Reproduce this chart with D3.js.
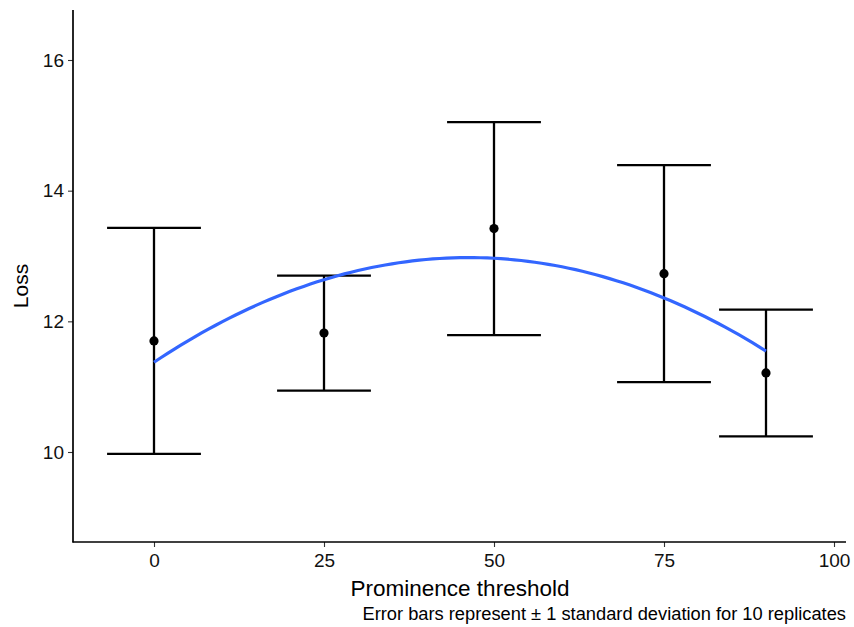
<!DOCTYPE html>
<html>
<head>
<meta charset="utf-8">
<script src="https://cdn.jsdelivr.net/npm/d3@7"></script>
<style>
  body { margin: 0; background: #fff; }
  text { font-family: "Liberation Sans", Arial, sans-serif; }
</style>
</head>
<body>
<svg width="854" height="627"></svg>
<script>
// thresholds, mean loss and sd over 10 replicates
const thresholds = [0, 25, 50, 75, 90];
const meanLoss = [11.70, 11.82, 13.42, 12.73, 11.21];
const sdLoss = [1.73, 0.88, 1.63, 1.66, 0.97];
const xTicks = [0, 25, 50, 75, 100];
const yTicks = [10, 12, 14, 16];

const svg = d3.select("svg");

const x = d3.scaleLinear().domain([0, 100]).range([154, 834]);
const y = d3.scaleLinear().domain([10, 16]).range([452, 60]);

// quadratic least squares fit (like geom_smooth(method = lm, y ~ poly(x, 2)))
function quadFit(xs, ys) {
    let s = [0, 0, 0, 0, 0], t = [0, 0, 0];
    xs.forEach((xv, i) => {
        for (let k = 0; k < 5; k++) s[k] += Math.pow(xv, k);
        for (let k = 0; k < 3; k++) t[k] += ys[i] * Math.pow(xv, k);
    });
    const A = [[s[0], s[1], s[2], t[0]], [s[1], s[2], s[3], t[1]], [s[2], s[3], s[4], t[2]]];
    for (let i = 0; i < 3; i++) {
        for (let j = i + 1; j < 3; j++) {
            const f = A[j][i] / A[i][i];
            for (let k = i; k < 4; k++) A[j][k] -= f * A[i][k];
        }
    }
    const c = [0, 0, 0];
    for (let i = 2; i >= 0; i--) {
        let v = A[i][3];
        for (let k = i + 1; k < 3; k++) v -= A[i][k] * c[k];
        c[i] = v / A[i][i];
    }
    return xv => c[0] + c[1] * xv + c[2] * xv * xv;
}
const fit = quadFit(thresholds, meanLoss);
const fitX = d3.range(0, 90.01, 1);

// axes
const xAxis = svg.append("g")
    .attr("transform", "translate(0,542)")
    .call(d3.axisBottom(x).tickValues(xTicks).tickFormat(d3.format("d")).tickSize(5).tickPadding(4));
const yAxis = svg.append("g")
    .attr("transform", "translate(73,0)")
    .call(d3.axisLeft(y).tickValues(yTicks).tickFormat(d3.format("d")).tickSize(5).tickPadding(4));

[xAxis, yAxis].forEach(a => {
    a.select(".domain").remove();
    a.selectAll(".tick line").attr("stroke", "#333").attr("stroke-width", 1.1);
    a.selectAll(".tick text").attr("fill", "#111").style("font-size", "19px");
});
xAxis.selectAll(".tick text").attr("dy", "0.85em");

svg.append("line").attr("x1", 73).attr("x2", 73).attr("y1", 10).attr("y2", 542.5)
    .attr("stroke", "#000").attr("stroke-width", 1.7);
svg.append("line").attr("x1", 72.5).attr("x2", 846).attr("y1", 542).attr("y2", 542)
    .attr("stroke", "#000").attr("stroke-width", 1.7);

// error bars
const capHalf = 6.9;
const eb = svg.append("g").attr("stroke", "#000").attr("stroke-width", 2.3);
thresholds.forEach((t, i) => {
    const lo = meanLoss[i] - sdLoss[i], hi = meanLoss[i] + sdLoss[i];
    eb.append("line").attr("x1", x(t)).attr("x2", x(t)).attr("y1", y(hi)).attr("y2", y(lo));
    eb.append("line").attr("x1", x(t - capHalf)).attr("x2", x(t + capHalf)).attr("y1", y(hi)).attr("y2", y(hi));
    eb.append("line").attr("x1", x(t - capHalf)).attr("x2", x(t + capHalf)).attr("y1", y(lo)).attr("y2", y(lo));
});

// points
svg.append("g").selectAll("circle")
    .data(thresholds)
    .enter()
    .append("circle")
    .attr("cx", d => x(d))
    .attr("cy", (d, i) => y(meanLoss[i]))
    .attr("r", 4.6)
    .attr("fill", "#000");

// fitted curve
svg.append("path")
    .datum(fitX)
    .attr("fill", "none")
    .attr("stroke", "#3366FF")
    .attr("stroke-width", 3.2)
    .attr("d", d3.line().x(d => x(d)).y(d => y(fit(d))));

// labels
svg.append("text").attr("x", 460).attr("y", 596).attr("text-anchor", "middle")
    .style("font-size", "22.5px").attr("fill", "#000").text("Prominence threshold");
svg.append("text").attr("transform", "translate(28,286) rotate(-90)").attr("text-anchor", "middle")
    .style("font-size", "21px").attr("fill", "#000").text("Loss");
svg.append("text").attr("x", 846).attr("y", 620).attr("text-anchor", "end")
    .style("font-size", "18.3px").attr("fill", "#000")
    .text("Error bars represent \u00b1 1 standard deviation for 10 replicates");
</script>
</body>
</html>
